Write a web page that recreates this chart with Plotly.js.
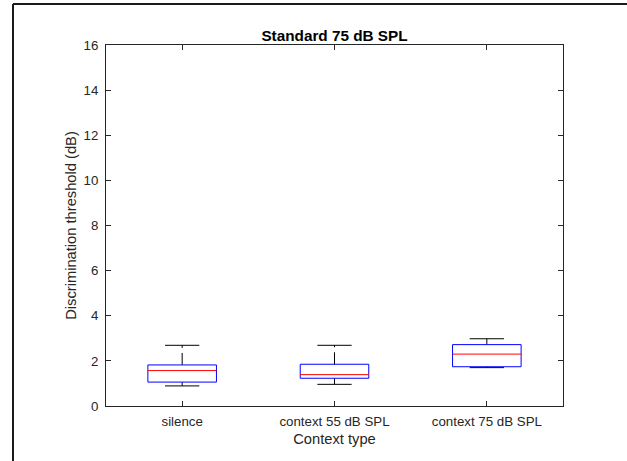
<!DOCTYPE html>
<html>
<head>
<meta charset="utf-8">
<script src="https://cdn.plot.ly/plotly-3.0.1.min.js"></script>
<style>html,body{margin:0;padding:0;background:#fff;}#chart{width:627px;height:461px;}</style>
</head>
<body>
<div id="chart"></div>
<script>
const categories = ["silence", "context 55 dB SPL", "context 75 dB SPL"];
const lowerWhisker = [0.89, 0.96, 1.70];
const q1 = [1.06, 1.23, 1.74];
const medians = [1.57, 1.39, 2.30];
const q3 = [1.82, 1.85, 2.72];
const upperWhisker = [2.69, 2.69, 2.98];
const yTicks = [0, 2, 4, 6, 8, 10, 12, 14, 16];

const boxHalf = 0.225;
const capHalf = 0.1125;
const traces = [];
categories.forEach((c, i) => {
  const x = i + 1;
  traces.push({type: 'scatter', mode: 'lines', x: [x, x, null, x, x], y: [q3[i], upperWhisker[i], null, q1[i], lowerWhisker[i]],
    line: {color: '#000', width: 1, dash: '12px,5px'}, hoverinfo: 'skip', showlegend: false});
  traces.push({type: 'scatter', mode: 'lines', x: [x - capHalf, x + capHalf, null, x - capHalf, x + capHalf], y: [upperWhisker[i], upperWhisker[i], null, lowerWhisker[i], lowerWhisker[i]],
    line: {color: '#000', width: 1}, hoverinfo: 'skip', showlegend: false});
  traces.push({type: 'scatter', mode: 'lines', x: [x - boxHalf, x + boxHalf, x + boxHalf, x - boxHalf, x - boxHalf], y: [q1[i], q1[i], q3[i], q3[i], q1[i]],
    line: {color: '#0000ff', width: 1}, hoverinfo: 'skip', showlegend: false});
  traces.push({type: 'scatter', mode: 'lines', x: [x - boxHalf, x + boxHalf], y: [medians[i], medians[i]],
    line: {color: '#ff0000', width: 1}, hoverinfo: 'skip', showlegend: false});
});

const layout = {
  width: 627, height: 461,
  margin: {l: 106, r: 64, t: 45, b: 55, pad: 0},
  paper_bgcolor: '#fff', plot_bgcolor: '#fff',
  font: {family: 'Liberation Sans, Arial, sans-serif', color: '#262626', size: 13.3},
  title: {text: '<b>Standard 75 dB SPL</b>', font: {size: 15.3, color: '#000'}, x: 0.5, xref: 'paper', xanchor: 'center', y: 1, yref: 'paper', yanchor: 'bottom', pad: {b: 4}},
  xaxis: {range: [0.5, 3.5], tickvals: [1, 2, 3], ticktext: categories, ticks: 'inside', ticklen: 5, tickcolor: '#262626',
    showgrid: false, zeroline: false, showline: true, linecolor: '#262626', linewidth: 1, mirror: 'ticks',
    tickfont: {size: 13.3, color: '#262626'}, ticklabelstandoff: 3,
    title: {text: 'Context type', font: {size: 14.7, color: '#262626'}, standoff: 5}},
  yaxis: {range: [0, 16], tickvals: yTicks, ticks: 'inside', ticklen: 5, tickcolor: '#262626',
    showgrid: false, zeroline: false, showline: true, linecolor: '#262626', linewidth: 1, mirror: 'ticks',
    tickfont: {size: 13.3, color: '#262626'}, ticklabelstandoff: 4,
    title: {text: 'Discrimination threshold (dB)', font: {size: 14.7, color: '#262626'}, standoff: 3}},
  shapes: [
    {type: 'line', xref: 'paper', yref: 'paper', x0: -0.2035, x1: -0.2035, y0: 1.1136, y1: -0.16, line: {color: '#1a1a1a', width: 2}},
    {type: 'line', xref: 'paper', yref: 'paper', x0: -0.2035, x1: 1.15, y0: 1.1136, y1: 1.1136, line: {color: '#1a1a1a', width: 2}}
  ]
};

Plotly.newPlot('chart', traces, layout, {displayModeBar: false, staticPlot: true});
</script>
</body>
</html>
